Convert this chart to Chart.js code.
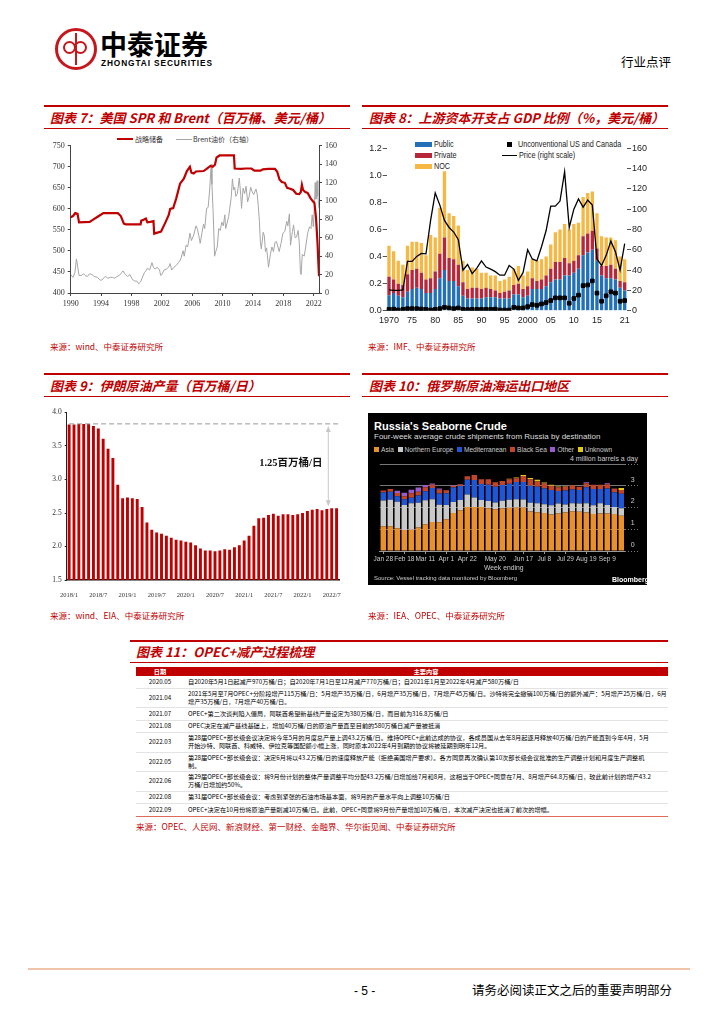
<!DOCTYPE html>
<html lang="zh">
<head>
<meta charset="utf-8">
<title>行业点评</title>
<script src="https://cdn.jsdelivr.net/npm/chart.js@4.4.0/dist/chart.umd.min.js"></script>
<style>
  html,body{margin:0;padding:0;background:#fff}
  body{width:724px;height:1024px;position:relative;overflow:hidden;font-family:"Noto Sans CJK SC",sans-serif;color:#000}
  .a{position:absolute;white-space:nowrap}
  .topline{position:absolute;height:2px;background:#c00000}
  .subline{position:absolute;height:1px;background:#c00000}
  .ttl{position:absolute;color:#c00000;font-weight:bold;font-style:italic;font-size:13px;line-height:16px;white-space:nowrap}
  .src{position:absolute;color:#c00000;font-size:8.5px;line-height:10px;white-space:nowrap}
  .cv{position:absolute}
  .lg8{position:absolute;font-family:"Liberation Sans",Arial,sans-serif;font-size:9.5px;line-height:10px;color:#222;white-space:nowrap;transform:scaleX(0.76);transform-origin:0 0}
  .bb{position:absolute;white-space:nowrap;font-family:"Liberation Sans",Arial,sans-serif}
  .sq{display:inline-block;width:5px;height:5px;margin-right:2px}
  table.op{position:absolute;left:136px;top:667px;width:532px;border-collapse:collapse;font-size:6.2px;line-height:8px}
  table.op th{background:#c00000;color:#fff;font-weight:bold;height:9px;padding:0;line-height:9px}
  table.op td{border-bottom:1px solid #e3e3e3;padding:0;height:11.5px;white-space:nowrap;vertical-align:middle}
  table.op tr.two td{height:18.5px}
  table.op td.d{text-align:center;width:48px}
  table.op td.c{padding-left:4px}
  table.op tr:last-child td{border-bottom:1px solid #e06a5a}
</style>
</head>
<body>

<!-- 页眉 -->
<div class="a" style="left:55px;top:28px;width:36px;height:36px;border:3px solid #c8161d;border-radius:50%"></div>
<div class="a" style="left:63px;top:41px;width:9px;height:9px;border:2.5px solid #c8161d;border-radius:50%"></div>
<div class="a" style="left:74px;top:41px;width:9px;height:9px;border:2.5px solid #c8161d;border-radius:50%"></div>
<div class="a" style="left:75px;top:33px;width:1.5px;height:32px;background:#c8161d"></div>
<div class="a" style="left:100px;top:27px;font-size:27px;font-weight:bold;line-height:34px">中泰证券</div>
<div class="a" style="left:101px;top:58px;font-family:'Liberation Sans',Arial,sans-serif;font-size:8.3px;font-weight:bold;line-height:10px;letter-spacing:0.9px">ZHONGTAI SECURITIES</div>
<div class="a" style="left:621px;top:54px;font-size:12.5px;line-height:16px">行业点评</div>

<!-- 图表7 / 图表8 标题 -->
<div class="topline" style="left:44px;top:105px;width:306px"></div>
<div class="ttl" style="left:50px;top:110px">图表 7：美国 SPR 和 Brent（百万桶、美元/桶）</div>
<div class="subline" style="left:44px;top:128px;width:306px"></div>
<div class="topline" style="left:362px;top:105px;width:306px"></div>
<div class="ttl" style="left:369px;top:110px">图表 8：上游资本开支占 GDP 比例（%，美元/桶）</div>
<div class="subline" style="left:362px;top:128px;width:306px"></div>

<!-- 图表7 图例 -->
<div class="a" style="left:117px;top:138px;width:16px;height:2.2px;background:#c00000"></div>
<div class="a" style="left:135px;top:134px;font-size:7px;line-height:10px;color:#333">战略储备</div>
<div class="a" style="left:176px;top:139px;width:16px;height:1px;background:#a6a6a6"></div>
<div class="a" style="left:193px;top:134px;font-size:7px;line-height:10px;color:#333">Brent油价（右轴）</div>
<div class="cv" style="left:44px;top:138px;width:306px;height:180px"><canvas id="c7"></canvas></div>

<!-- 图表8 图例 -->
<div class="a" style="left:415px;top:142px;width:17px;height:5px;background:#2170b8"></div>
<div class="lg8" style="left:434px;top:139px">Public</div>
<div class="a" style="left:415px;top:153px;width:17px;height:5px;background:#b8263a"></div>
<div class="lg8" style="left:434px;top:150px">Private</div>
<div class="a" style="left:415px;top:164px;width:17px;height:5px;background:#f6b843"></div>
<div class="lg8" style="left:434px;top:161px">NOC</div>
<div class="a" style="left:507px;top:142px;width:5px;height:5px;background:#000"></div>
<div class="lg8" style="left:518px;top:139px">Unconventional US and Canada</div>
<div class="a" style="left:502px;top:155px;width:15px;height:1.3px;background:#000"></div>
<div class="lg8" style="left:519px;top:150px">Price (right scale)</div>
<div class="cv" style="left:362px;top:140px;width:306px;height:190px"><canvas id="c8"></canvas></div>

<div class="src" style="left:50px;top:341px">来源：wind、中泰证券研究所</div>
<div class="src" style="left:368px;top:341px">来源：IMF、中泰证券研究所</div>

<!-- 图表9 / 图表10 标题 -->
<div class="topline" style="left:44px;top:373px;width:306px"></div>
<div class="ttl" style="left:50px;top:378px">图表 9：伊朗原油产量（百万桶/日）</div>
<div class="subline" style="left:44px;top:396px;width:306px"></div>
<div class="topline" style="left:362px;top:373px;width:306px"></div>
<div class="ttl" style="left:369px;top:378px">图表 10：俄罗斯原油海运出口地区</div>
<div class="subline" style="left:362px;top:396px;width:306px"></div>

<div class="cv" style="left:44px;top:405px;width:306px;height:195px"><canvas id="c9"></canvas></div>

<!-- 图表10 黑底 -->
<div class="a" style="left:368px;top:413px;width:279px;height:172px;background:#000"></div>
<div class="bb" style="left:374px;top:420px;color:#fff;font-weight:bold;font-size:11px;line-height:13px">Russia's Seaborne Crude</div>
<div class="bb" style="left:374px;top:430.5px;color:#ddd;font-size:8px;line-height:11px">Four-week average crude shipments from Russia by destination</div>
<div class="bb" style="left:374px;top:444.5px;color:#ccc;font-size:6.6px;line-height:10px"><span class="sq" style="background:#e8902c"></span>Asia &nbsp;<span class="sq" style="background:#c9c9c9"></span>Northern Europe &nbsp;<span class="sq" style="background:#1f56d6"></span>Mediterranean &nbsp;<span class="sq" style="background:#c2452a"></span>Black Sea &nbsp;<span class="sq" style="background:#9a5bd0"></span>Other &nbsp;<span class="sq" style="background:#e6c619"></span>Unknown</div>
<div class="bb" style="right:86px;top:454px;color:#ccc;font-size:7px;line-height:10px">4 million barrels a day</div>
<div class="cv" style="left:368px;top:460px;width:279px;height:106px"><canvas id="c10"></canvas></div>
<div class="bb" style="left:484px;top:563px;color:#ccc;font-size:6.8px;line-height:10px">Week ending</div>
<div class="bb" style="left:374px;top:574px;color:#ccc;font-size:6px;line-height:9px">Source: Vessel tracking data monitored by Bloomberg</div>
<div class="bb" style="left:612px;top:575px;color:#fff;font-weight:bold;font-size:7px;line-height:10px">Bloomberg</div>

<div class="src" style="left:50px;top:610px">来源：wind、EIA、中泰证券研究所</div>
<div class="src" style="left:368px;top:610px">来源：IEA、OPEC、中泰证券研究所</div>

<!-- 图表11 -->
<div class="topline" style="left:130px;top:640px;width:538px"></div>
<div class="ttl" style="left:136px;top:644px">图表 11：OPEC+减产过程梳理</div>
<div class="subline" style="left:130px;top:662px;width:538px"></div>
<table class="op">
  <tr><th>日期</th><th>主要内容</th></tr>
  <tr><td class="d">2020.05</td><td class="c">自2020年5月1日起减产970万桶/日；自2020年7月1日至12月减产770万桶/日；自2021年1月至2022年4月减产580万桶/日</td></tr>
  <tr class="two"><td class="d">2021.04</td><td class="c">2021年5月至7月OPEC+分阶段增产115万桶/日：5月增产35万桶/日，6月增产35万桶/日，7月增产45万桶/日。沙特将完全撤销100万桶/日的额外减产：5月增产25万桶/日，6月<br>增产35万桶/日，7月增产40万桶/日。</td></tr>
  <tr><td class="d">2021.07</td><td class="c">OPEC+第二次谈判陷入僵局，阿联酋希望新基线产量设定为380万桶/日，而目前为316.8万桶/日</td></tr>
  <tr><td class="d">2021.08</td><td class="c">OPEC决定在减产基线基础上，增加40万桶/日的原油产量直至目前的580万桶日减产量被抵消</td></tr>
  <tr class="two"><td class="d">2022.03</td><td class="c">第28届OPEC+部长级会议决定将今年5月的月度总产量上调43.2万桶/日。维持OPEC+此前达成的协议，各成员国从去年8月起逐月释放40万桶/日的产能直到今年4月，5月<br>开始沙特、阿联酋、科威特、伊拉克等国配额小幅上涨，同时原本2022年4月到期的协议将被延期到明年12月。</td></tr>
  <tr class="two"><td class="d">2022.05</td><td class="c">第28届OPEC+部长级会议：决定6月将以43.2万桶/日的速度释放产能（拒绝美国增产要求）。各方同意再次确认第10次部长级会议批准的生产调整计划和月度生产调整机<br>制。</td></tr>
  <tr class="two"><td class="d">2022.06</td><td class="c">第29届OPEC+部长级会议：将9月份计划的整体产量调整平均分配43.2万桶/日增加给7月和8月，这相当于OPEC+同意在7月、8月增产64.8万桶/日，较此前计划的增产43.2<br>万桶/日增加约50%。</td></tr>
  <tr><td class="d">2022.08</td><td class="c">第31届OPEC+部长级会议：考虑到紧张的石油市场基本面，将9月的产量水平向上调整10万桶/日</td></tr>
  <tr><td class="d">2022.09</td><td class="c">OPEC+决定在10月份将原油产量削减10万桶/日。此前，OPEC+同意将9月份产量增加10万桶/日，本次减产决定也抵消了前次的增幅。</td></tr>
</table>
<div class="src" style="left:136px;top:821px">来源：OPEC、人民网、新浪财经、第一财经、金融界、华尔街见闻、中泰证券研究所</div>

<!-- 页脚 -->
<div class="a" style="left:28px;top:968px;width:662px;height:2px;background:#f0c4ab"></div>
<div class="a" style="left:354px;top:983px;font-family:'Liberation Sans',Arial,sans-serif;font-size:12px;line-height:16px">- 5 -</div>
<div class="a" style="left:472px;top:982px;font-size:12.5px;line-height:16px">请务必阅读正文之后的重要声明部分</div>

<script>
// ---------- 图表7：美国SPR和Brent ----------
var sprYears = [1990.0,1990.3,1990.6,1990.9,1991.1,1992.5,1993.0,1993.6,1994.3,1996.2,1996.6,1997.0,1997.3,1999.2,1999.3,1999.6,1999.9,2000.1,2000.5,2000.9,2001.0,2001.3,2001.9,2002.4,2002.9,2003.1,2003.5,2003.9,2004.4,2004.9,2005.3,2005.7,2005.9,2006.2,2006.5,2007.5,2007.9,2008.4,2008.7,2009.0,2009.2,2009.6,2011.5,2011.6,2012.5,2013.0,2013.8,2014.2,2015.0,2015.3,2016.0,2016.9,2017.2,2017.5,2017.8,2018.2,2018.5,2018.9,2019.3,2019.7,2020.1,2020.3,2020.45,2020.6,2020.9,2021.2,2021.6,2021.9,2022.1,2022.3,2022.5,2022.6,2022.7];
var sprLevels = [580,583,590,588,568,569,575,582,590,590,583,565,563,563,572,574,577,568,569,571,541,543,546,565,585,600,602,625,660,672,690,700,686,684,689,690,695,702,700,705,722,727,727,696,695,696,696,691,691,694,695,695,688,670,664,662,650,648,645,636,635,640,657,645,640,638,625,618,614,580,520,480,440];
var brentYears = [1990.0,1990.3,1990.55,1990.75,1990.85,1991.0,1991.1,1991.4,1991.7,1991.9,1992.2,1992.5,1992.8,1993.1,1993.5,1993.9,1994.1,1994.4,1994.6,1994.9,1995.2,1995.5,1995.8,1996.1,1996.4,1996.7,1996.9,1997.2,1997.5,1997.8,1998.1,1998.4,1998.7,1998.95,1999.2,1999.4,1999.7,1999.9,2000.1,2000.4,2000.7,2000.9,2001.1,2001.4,2001.7,2001.85,2002.0,2002.3,2002.6,2002.9,2003.1,2003.3,2003.6,2003.9,2004.2,2004.5,2004.8,2004.95,2005.2,2005.4,2005.7,2005.9,2006.2,2006.5,2006.7,2006.95,2007.05,2007.3,2007.5,2007.65,2007.9,2008.1,2008.3,2008.5,2008.6,2008.75,2008.95,2009.1,2009.3,2009.5,2009.7,2009.9,2010.1,2010.3,2010.4,2010.6,2010.8,2010.95,2011.15,2011.3,2011.45,2011.6,2011.75,2011.95,2012.2,2012.4,2012.5,2012.7,2012.9,2013.1,2013.3,2013.5,2013.7,2013.9,2014.1,2014.4,2014.55,2014.7,2014.85,2014.98,2015.1,2015.35,2015.5,2015.65,2015.8,2015.95,2016.05,2016.3,2016.5,2016.7,2016.9,2017.1,2017.45,2017.7,2017.95,2018.2,2018.45,2018.6,2018.8,2018.95,2019.2,2019.35,2019.55,2019.75,2019.95,2020.1,2020.25,2020.35,2020.5,2020.75,2020.95,2021.2,2021.45,2021.65,2021.8,2021.95,2022.1,2022.2,2022.3,2022.45,2022.55,2022.7];
var brentPrices = [20,17,22,37,33,24,19,19,21,19,18,21,20,18,17,14,14,17,18,16,17,17,16,18,19,22,24,20,18,20,15,13,13,10,12,16,22,24,27,25,33,28,26,28,25,19,20,25,26,28,32,25,28,30,33,37,46,40,52,50,65,57,63,73,69,59,54,66,75,70,92,93,112,140,118,90,40,45,50,70,68,77,73,85,70,76,83,92,105,124,112,115,105,108,125,106,92,114,108,116,99,105,115,110,107,113,108,95,78,55,48,66,62,45,49,37,28,42,50,45,55,56,45,54,65,67,78,73,86,52,67,74,60,61,68,55,23,20,42,40,50,65,72,70,85,72,95,120,102,122,105,92];
var yearTicks7 = [1990,1994,1998,2002,2006,2010,2014,2018,2022];

// ---------- 图表8：上游资本开支 ----------
var capexYears = [1970,1971,1972,1973,1974,1975,1976,1977,1978,1979,1980,1981,1982,1983,1984,1985,1986,1987,1988,1989,1990,1991,1992,1993,1994,1995,1996,1997,1998,1999,2000,2001,2002,2003,2004,2005,2006,2007,2008,2009,2010,2011,2012,2013,2014,2015,2016,2017,2018,2019,2020,2021];
var capexPublic = [0.115,0.13,0.11,0.10,0.14,0.16,0.17,0.16,0.13,0.13, 0.16,0.24,0.30,0.22,0.22,0.18,0.11,0.09,0.09,0.09, 0.09,0.10,0.10,0.10,0.09,0.09,0.09,0.12,0.12,0.10, 0.11,0.16,0.16,0.16,0.18,0.21,0.23,0.23,0.26,0.26, 0.28,0.31,0.41,0.43,0.45,0.37,0.26,0.24,0.24,0.23, 0.17,0.15];
var capexPrivate = [0.135,0.10,0.09,0.09,0.13,0.14,0.14,0.12,0.10,0.11, 0.13,0.18,0.24,0.17,0.16,0.16,0.10,0.07,0.08,0.08, 0.07,0.07,0.06,0.05,0.04,0.05,0.06,0.07,0.08,0.06, 0.07,0.08,0.06,0.07,0.08,0.10,0.13,0.13,0.13,0.09, 0.09,0.10,0.14,0.14,0.14,0.09,0.07,0.09,0.10,0.08, 0.05,0.06];
var capexNoc = [0.23,0.21,0.17,0.15,0.21,0.21,0.20,0.22,0.18,0.32, 0.25,0.34,0.49,0.33,0.32,0.29,0.16,0.14,0.15,0.14, 0.12,0.11,0.10,0.11,0.09,0.09,0.10,0.12,0.13,0.10, 0.11,0.14,0.15,0.15,0.14,0.18,0.22,0.24,0.25,0.25, 0.27,0.24,0.29,0.30,0.29,0.26,0.22,0.21,0.20,0.21, 0.18,0.17];
var unconventional = [0.01,0.012,0.005,0.01,0.015,0.015,0.015,0.012,0.01,0.005, 0.01,0.015,0.025,0.02,0.015,0.02,0.01,0.008,0.01,0.01, 0.01,0.01,0.01,0.012,0.005,0.005,0.005,0.025,0.02,0.02, 0.03,0.045,0.04,0.05,0.06,0.075,0.095,0.095,0.095,0.055, 0.09,0.115,0.185,0.19,0.22,0.13,0.07,0.11,0.14,0.13, 0.07,0.075];
var oilPrice = [20.5,20,20,20.5,48.5,48.5,53.5,56.5,56,89, 116,104,89,82,77.5,70,40,45.5,36.5,42, 49,43,41,38.5,35,35,44.5,41,30,37.5, 60,51,49,63,79,103,103,108,137,82, 100,110,102,109,104,51,44.5,54.5,68.5,58, 40,66];
var capexTickIdx = [0,5,10,15,20,25,30,35,40,45,51];
var capexTickText = ['1970','75','80','85','90','95','2000','05','10','15','21'];

// ---------- 图表9：伊朗原油产量 ----------
var iranMonths = ['2018/1','2018/2','2018/3','2018/4','2018/5','2018/6','2018/7','2018/8','2018/9','2018/10','2018/11','2018/12',
  '2019/1','2019/2','2019/3','2019/4','2019/5','2019/6','2019/7','2019/8','2019/9','2019/10','2019/11','2019/12',
  '2020/1','2020/2','2020/3','2020/4','2020/5','2020/6','2020/7','2020/8','2020/9','2020/10','2020/11','2020/12',
  '2021/1','2021/2','2021/3','2021/4','2021/5','2021/6','2021/7','2021/8','2021/9','2021/10','2021/11','2021/12',
  '2022/1','2022/2','2022/3','2022/4','2022/5','2022/6','2022/7','2022/8'];
var iranOutput = [3.82,3.82,3.83,3.83,3.83,3.80,3.76,3.61,3.46,3.32, 2.92,2.72,2.73,2.72,2.71,2.59,2.36,2.25,2.21,2.19, 2.16,2.13,2.10,2.09,2.07,2.06,2.02,1.97,1.94,1.94, 1.93,1.94,1.96,1.95,1.99,2.02,2.09,2.16,2.31,2.42, 2.43,2.47,2.49,2.46,2.48,2.48,2.47,2.48,2.50,2.53, 2.55,2.56,2.54,2.56,2.57,2.57];
var iranGapText = '1.25百万桶/日';

// ---------- 图表10：俄罗斯原油海运 ----------
var weeks = ['Jan 28','Feb 4','Feb 11','Feb 18','Feb 25','Mar 4','Mar 11','Mar 18','Mar 25','Apr 1','Apr 8','Apr 15','Apr 22','Apr 29','May 6','May 13','May 20','May 27','Jun 3','Jun 10','Jun 17','Jun 24','Jul 1','Jul 8','Jul 15','Jul 22','Jul 29','Aug 5','Aug 12','Aug 19','Aug 26','Sep 2','Sep 9','Sep 16','Sep 23'];
var weekLabelIdx = [0,3,6,9,12,16,20,23,26,29,32];
var asia = [1.14,1.14,1.05,0.97,0.98,1.08,1.23,1.33,1.32,1.46,1.75,1.87,2.02,2.02,2.02,1.97,1.92,1.97,1.99,2.00,2.00,1.82,1.78,1.75,1.68,1.72,1.77,1.83,1.80,1.77,1.70,1.72,1.72,1.70,1.62];
var northEurope = [1.18,1.22,1.22,1.15,1.22,1.14,1.10,1.05,0.81,0.66,0.50,0.48,0.58,0.44,0.32,0.33,0.31,0.34,0.37,0.38,0.37,0.40,0.42,0.40,0.42,0.46,0.37,0.37,0.38,0.43,0.40,0.48,0.40,0.32,0.34];
var mediterranean = [0.37,0.36,0.25,0.26,0.25,0.33,0.42,0.52,0.51,0.53,0.67,0.64,0.68,0.81,0.74,0.75,0.72,0.72,0.73,0.79,0.80,0.78,0.75,0.72,0.70,0.58,0.64,0.63,0.62,0.73,0.75,0.65,0.75,0.68,0.67];
var blackSea = [0.09,0.13,0.15,0.14,0.20,0.17,0.18,0.15,0.18,0.14,0.08,0.07,0.16,0.23,0.22,0.25,0.21,0.19,0.21,0.18,0.28,0.30,0.25,0.23,0.20,0.17,0.17,0.19,0.15,0.19,0.20,0.20,0.20,0.17,0.17];
var other = [0,0,0.10,0.16,0.17,0.20,0.09,0.05,0.05,0.02,0.04,0.02,0,0,0,0,0,0,0,0,0,0,0,0,0,0,0,0,0,0.04,0,0,0.05,0,0];
var unknown = [0,0,0,0,0,0,0,0,0,0,0,0,0,0,0,0,0,0,0.02,0.03,0.05,0.06,0.08,0.05,0.05,0.04,0.03,0,0,0,0,0,0,0,0.10];

var serif = "'Liberation Serif','Noto Sans CJK SC',serif";
var sans = "'Liberation Sans',Arial,sans-serif";
Chart.defaults.font.family = serif;

// ---- chart 7
new Chart(document.getElementById('c7'), {
  type: 'line',
  data: {
    datasets: [{
      label: '战略储备',
      data: sprYears.map(function (x, i) { return { x: x, y: sprLevels[i] }; }),
      borderColor: '#c00000', borderWidth: 2.2, pointRadius: 0, yAxisID: 'y', order: 0
    }, {
      label: 'Brent油价（右轴）',
      data: brentYears.map(function (x, i) { return { x: x, y: brentPrices[i] }; }),
      borderColor: '#a6a6a6', borderWidth: 1, pointRadius: 0, yAxisID: 'y1', order: 1
    }]
  },
  options: {
    animation: false, responsive: true, maintainAspectRatio: false,
    layout: { padding: { top: 6.3, left: 0, right: 0, bottom: 0 } },
    plugins: { legend: { display: false }, tooltip: { enabled: false } },
    scales: {
      x: {
        type: 'linear', min: 1990, max: 2022.7,
        afterBuildTicks: function (s) { s.ticks = yearTicks7.map(function (v) { return { value: v }; }); },
        ticks: { callback: function (v) { return String(v); }, font: { size: 8 }, color: '#333', maxRotation: 0, padding: 3 },
        grid: { drawOnChartArea: false, tickLength: 3, color: '#444' },
        border: { color: '#444' },
        afterFit: function (s) { s.height = 25; }
      },
      y: {
        min: 400, max: 750, ticks: { stepSize: 50, font: { size: 8 }, color: '#333', padding: 3 },
        grid: { drawOnChartArea: false, tickLength: 3, color: '#444' }, border: { color: '#444' },
        afterFit: function (s) { s.width = 26.7; }
      },
      y1: {
        position: 'right', min: 0, max: 160, ticks: { stepSize: 20, font: { size: 8 }, color: '#333', padding: 3 },
        grid: { drawOnChartArea: false, tickLength: 3, color: '#444' }, border: { color: '#444' },
        afterFit: function (s) { s.width = 31; }
      }
    }
  }
});

// ---- chart 8
new Chart(document.getElementById('c8'), {
  type: 'bar',
  data: {
    labels: capexYears,
    datasets: [
      { type: 'line', label: 'Unconventional US and Canada', data: unconventional, yAxisID: 'y', stack: 'unc',
        showLine: false, pointStyle: 'rect', pointRadius: 2.6, pointBackgroundColor: '#000', pointBorderColor: '#000', order: 0 },
      { type: 'line', label: 'Price (right scale)', data: oilPrice, yAxisID: 'y1',
        borderColor: '#000', borderWidth: 1.3, pointRadius: 0, tension: 0, order: 1 },
      { label: 'Public', data: capexPublic, backgroundColor: '#2170b8', stack: 'cap', order: 2, barPercentage: 0.72, categoryPercentage: 1 },
      { label: 'Private', data: capexPrivate, backgroundColor: '#b8263a', stack: 'cap', order: 2, barPercentage: 0.72, categoryPercentage: 1 },
      { label: 'NOC', data: capexNoc, backgroundColor: '#f6b843', stack: 'cap', order: 2, barPercentage: 0.72, categoryPercentage: 1 }
    ]
  },
  options: {
    animation: false, responsive: true, maintainAspectRatio: false,
    layout: { padding: { top: 8.3, left: 0, right: 0, bottom: 0 } },
    plugins: { legend: { display: false }, tooltip: { enabled: false } },
    scales: {
      x: {
        stacked: true,
        ticks: {
          autoSkip: false, maxRotation: 0, padding: 4, font: { family: sans, size: 9 }, color: '#222',
          callback: function (v, i) { var k = capexTickIdx.indexOf(i); return k >= 0 ? capexTickText[k] : ''; }
        },
        grid: { display: false, drawTicks: false }, border: { display: false },
        afterFit: function (s) { s.height = 19.3; }
      },
      y: {
        stacked: true, min: 0, max: 1.2,
        ticks: {
          stepSize: 0.1, padding: 1, font: { family: sans, size: 9 }, color: '#222',
          callback: function (v) { return Math.round(v * 10) % 2 === 0 ? v.toFixed(1) : ''; }
        },
        grid: { drawOnChartArea: false, tickLength: 4, color: '#555',
          tickWidth: function (c) { return Math.round(c.tick.value * 10) % 2 === 0 ? 1 : 1.5; } },
        border: { display: false },
        afterFit: function (s) { s.width = 24.7; }
      },
      y1: {
        position: 'right', min: 0, max: 160,
        ticks: { stepSize: 20, padding: 1, font: { family: sans, size: 9 }, color: '#222' },
        grid: { drawOnChartArea: false, tickLength: 4, color: '#555' },
        border: { display: false },
        afterFit: function (s) { s.width = 41; }
      }
    }
  }
});

// ---- chart 9
var gapMarker = {
  id: 'gapMarker',
  afterDatasetsDraw: function (c) {
    var ctx = c.ctx, a = c.chartArea, x = c.scales.x, y = c.scales.y;
    var peak = Math.max.apply(null, iranOutput);
    var last = iranOutput[iranOutput.length - 1];
    var yTop = y.getPixelForValue(peak), yBot = y.getPixelForValue(last);
    ctx.save();
    ctx.strokeStyle = '#9a9a9a'; ctx.lineWidth = 1; ctx.setLineDash([5, 3]);
    ctx.beginPath(); ctx.moveTo(x.getPixelForValue(0), yTop); ctx.lineTo(a.right + 1, yTop); ctx.stroke();
    ctx.setLineDash([]);
    var ax = x.getPixelForValue(53.3);
    ctx.strokeStyle = '#c8c8c8'; ctx.fillStyle = '#c8c8c8';
    ctx.beginPath(); ctx.moveTo(ax, yTop + 4); ctx.lineTo(ax, yBot - 4); ctx.stroke();
    ctx.beginPath(); ctx.moveTo(ax, yTop + 2); ctx.lineTo(ax - 2.5, yTop + 8); ctx.lineTo(ax + 2.5, yTop + 8); ctx.closePath(); ctx.fill();
    ctx.beginPath(); ctx.moveTo(ax, yBot - 2); ctx.lineTo(ax - 2.5, yBot - 8); ctx.lineTo(ax + 2.5, yBot - 8); ctx.closePath(); ctx.fill();
    ctx.fillStyle = '#111'; ctx.font = "bold 10.5px 'Liberation Serif','Noto Sans CJK SC',serif";
    ctx.textAlign = 'center'; ctx.textBaseline = 'middle';
    ctx.fillText(iranGapText, x.getPixelForValue(45.6), y.getPixelForValue(3.24));
    ctx.restore();
  }
};
new Chart(document.getElementById('c9'), {
  type: 'bar',
  data: { labels: iranMonths, datasets: [{ data: iranOutput, backgroundColor: '#c00000', barPercentage: 0.6, categoryPercentage: 1 }] },
  options: {
    animation: false, responsive: true, maintainAspectRatio: false,
    layout: { padding: { top: 6.7, right: 11, left: 0, bottom: 0 } },
    plugins: { legend: { display: false }, tooltip: { enabled: false } },
    scales: {
      x: {
        ticks: { autoSkip: false, maxRotation: 0, padding: 3, font: { size: 6.5 }, color: '#333',
          callback: function (v, i) { return i % 6 === 0 ? iranMonths[i] : ''; } },
        grid: { display: false }, border: { color: '#111', width: 1.6 },
        afterFit: function (s) { s.height = 20; }
      },
      y: {
        min: 1.5, max: 4, ticks: { stepSize: 0.5, font: { size: 7.5 }, color: '#333', padding: 3 },
        grid: { drawOnChartArea: false, tickLength: 2, color: '#222' }, border: { color: '#222' },
        afterFit: function (s) { s.width = 22.7; }
      }
    }
  },
  plugins: [gapMarker]
});

// ---- chart 10
function bbSet(label, data, color) {
  return { label: label, data: data, backgroundColor: color, barPercentage: 0.78, categoryPercentage: 1 };
}
new Chart(document.getElementById('c10'), {
  type: 'bar',
  data: {
    labels: weeks,
    datasets: [
      bbSet('Asia', asia, '#e8902c'),
      bbSet('Northern Europe', northEurope, '#c9c9c9'),
      bbSet('Mediterranean', mediterranean, '#1f56d6'),
      bbSet('Black Sea', blackSea, '#c2452a'),
      bbSet('Other', other, '#9a5bd0'),
      bbSet('Unknown', unknown, '#e6c619')
    ]
  },
  options: {
    animation: false, responsive: true, maintainAspectRatio: false,
    layout: { padding: { top: 4, left: 11.8, right: 0, bottom: 0 } },
    plugins: { legend: { display: false }, tooltip: { enabled: false } },
    scales: {
      x: {
        stacked: true,
        ticks: { autoSkip: false, maxRotation: 0, padding: 1, color: '#ccc',
          font: { family: sans, size: 6.5 },
          callback: function (v, i) { return weekLabelIdx.indexOf(i) >= 0 ? weeks[i] : ''; } },
        grid: { display: true, drawOnChartArea: false, offset: false, tickLength: 3,
          tickColor: function (c) { return weekLabelIdx.indexOf(c.index) >= 0 ? '#999' : 'rgba(0,0,0,0)'; } },
        border: { color: '#999' },
        afterFit: function (s) { s.height = 15; }
      },
      y: {
        stacked: true, position: 'right', min: 0, max: 4,
        ticks: { stepSize: 1, padding: -9, labelOffset: -6, color: '#ccc',
          font: { family: sans, size: 7 },
          callback: function (v) { return v === 4 ? '' : String(v); } },
        grid: { color: '#777', borderDash: [1, 2], tickLength: 15, tickBorderDash: [1, 2], tickColor: '#777' },
        border: { display: false },
        afterFit: function (s) { s.width = 22.2; }
      }
    }
  }
});
</script>
</body>
</html>
